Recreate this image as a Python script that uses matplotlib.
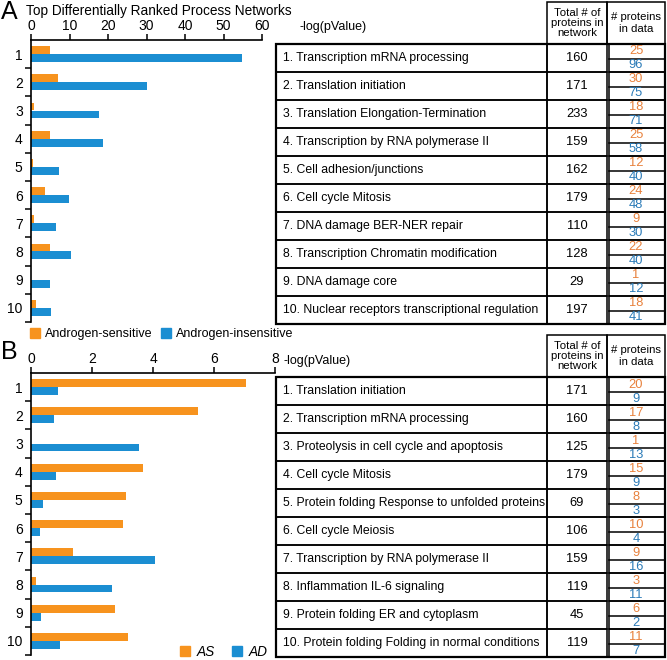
"""Top differentially ranked process networks: bars plus side tables"""
import matplotlib
matplotlib.use("Agg")
from matplotlib import pyplot as plt
from matplotlib.patches import Rectangle, Patch

plt.rcParams['font.family'] = ['Liberation Sans', 'DejaVu Sans']

W, H = 667, 660

ORANGE = '#F7931E'
BLUE = '#1B8ED2'
TXT_ORANGE = '#E8813C'
TXT_BLUE = '#2B7BB8'

ranks = list(range(1, 11))

# panel A
networks_a = [
    "1. Transcription mRNA processing",
    "2. Translation initiation",
    "3. Translation Elongation-Termination",
    "4. Transcription by RNA polymerase II",
    "5. Cell adhesion/junctions",
    "6. Cell cycle Mitosis",
    "7. DNA damage BER-NER repair",
    "8. Transcription Chromatin modification",
    "9. DNA damage core",
    "10. Nuclear receptors transcriptional regulation",
]
total_a = [160, 171, 233, 159, 162, 179, 110, 128, 29, 197]
count_sens_a = [25, 30, 18, 25, 12, 24, 9, 22, 1, 18]
count_insens_a = [96, 75, 71, 58, 40, 48, 30, 40, 12, 41]
logp_sens_a = [4.9, 6.9, 0.9, 4.9, 0.5, 3.6, 0.7, 5.0, 0.0, 1.2]
logp_insens_a = [54.8, 30.1, 17.6, 18.6, 7.2, 9.8, 6.5, 10.4, 4.9, 5.3]

# panel B
networks_b = [
    "1. Translation initiation",
    "2. Transcription mRNA processing",
    "3. Proteolysis in cell cycle and apoptosis",
    "4. Cell cycle Mitosis",
    "5. Protein folding Response to unfolded proteins",
    "6. Cell cycle Meiosis",
    "7. Transcription by RNA polymerase II",
    "8. Inflammation IL-6 signaling",
    "9. Protein folding ER and cytoplasm",
    "10. Protein folding Folding in normal conditions",
]
total_b = [171, 160, 125, 179, 69, 106, 159, 119, 45, 119]
count_as_b = [20, 17, 1, 15, 8, 10, 9, 3, 6, 11]
count_ad_b = [9, 8, 13, 9, 3, 4, 16, 11, 2, 7]
logp_as_b = [7.05, 5.47, 0.0, 3.68, 3.10, 3.02, 1.37, 0.16, 2.75, 3.19]
logp_ad_b = [0.90, 0.75, 3.54, 0.82, 0.38, 0.31, 4.07, 2.65, 0.34, 0.96]


def px_axes(fig, x0, y0, x1, y1):
    """Add axes from pixel box (top-left origin)"""
    return fig.add_axes([x0 / W, 1 - y1 / H, (x1 - x0) / W, (y1 - y0) / H])


def bar_panel(ax, first, second, xmax, step):
    """Horizontal grouped bars with axis on top"""
    bh = 0.28
    ax.barh([r - 0.14 for r in ranks], first, height=bh, color=ORANGE)
    ax.barh([r + 0.14 for r in ranks], second, height=bh, color=BLUE)
    ax.set_xlim(0, xmax)
    ax.set_ylim(10.5, 0.5)
    ax.xaxis.tick_top()
    ax.set_xticks(range(0, xmax + 1, step))
    ax.set_yticks(ranks)
    ax.set_yticks([r + 0.5 for r in ranks], minor=True)
    ax.tick_params(axis='y', which='major', length=0, pad=6, labelsize=10)
    ax.tick_params(axis='y', which='minor', length=4, width=1.1)
    ax.tick_params(axis='x', direction='out', length=4, width=1.1,
                   pad=1, labelsize=10)
    for side in ['right', 'bottom']:
        ax.spines[side].set_visible(False)
    for side in ['left', 'top']:
        ax.spines[side].set_linewidth(1.2)


def draw_table(ov, top, names, totals, top_counts, bottom_counts):
    """Draw the table to the right of a bar panel"""
    x0, x1, x2, x3 = 276, 547, 607, 665
    head_top = top - 42
    row_h = 28
    lw = 1.1
    # header cells
    ov.add_patch(Rectangle((x1, head_top), x2 - x1, 42, fill=False, lw=lw))
    ov.add_patch(Rectangle((x2, head_top), x3 - x2, 42, fill=False, lw=lw))
    ov.text((x1 + x2) / 2, head_top + 21, "Total # of\nproteins in\nnetwork",
            ha='center', va='center', fontsize=8.2, linespacing=1.0)
    ov.text((x2 + x3) / 2, head_top + 21, "# proteins\nin data",
            ha='center', va='center', fontsize=8.2, linespacing=1.15)
    for i, name in enumerate(names):
        y = top + i * row_h
        ov.add_patch(Rectangle((x0, y), x1 - x0, row_h, fill=False, lw=lw))
        ov.add_patch(Rectangle((x1, y), x2 - x1, row_h, fill=False, lw=lw))
        ov.add_patch(Rectangle((x2 + 2, y), x3 - x2 - 2, row_h,
                               fill=False, lw=lw))
        ov.plot([x2 + 2, x3], [y + 15, y + 15], color='black', lw=lw)
        ov.text(x0 + 7, y + row_h / 2, name, ha='left', va='center',
                fontsize=8.8)
        ov.text((x1 + x2) / 2, y + row_h / 2, str(totals[i]), ha='center',
                va='center', fontsize=9.3)
        ov.text((x2 + x3) / 2, y + 7.5, str(top_counts[i]), ha='center',
                va='center', fontsize=9.3, color=TXT_ORANGE)
        ov.text((x2 + x3) / 2, y + 21.5, str(bottom_counts[i]), ha='center',
                va='center', fontsize=9.3, color=TXT_BLUE)
    # heavier outer frame
    ov.add_patch(Rectangle((x0, top), x3 - x0, row_h * len(names),
                           fill=False, lw=1.6))


def main():
    """Build the figure"""
    fig = plt.figure(figsize=(W / 100, H / 100), dpi=100)

    ax_a = px_axes(fig, 31, 40, 262, 322)
    bar_panel(ax_a, logp_sens_a, logp_insens_a, 60, 10)
    ax_b = px_axes(fig, 31, 373, 275, 655)
    bar_panel(ax_b, logp_as_b, logp_ad_b, 8, 2)

    ov = fig.add_axes([0, 0, 1, 1])
    ov.set_xlim(0, W)
    ov.set_ylim(H, 0)
    ov.axis('off')

    ov.text(1, 12, "A", fontsize=18, va='center', ha='left')
    ov.text(26, 11, "Top Differentially Ranked Process Networks",
            fontsize=9.8, va='center', ha='left')
    ov.text(300, 27, "-log(pValue)", fontsize=9, va='center', ha='left')
    ov.text(1, 352, "B", fontsize=18, va='center', ha='left')
    ov.text(284, 361, "-log(pValue)", fontsize=9, va='center', ha='left')

    draw_table(ov, 44, networks_a, total_a, count_sens_a, count_insens_a)
    draw_table(ov, 377, networks_b, total_b, count_as_b, count_ad_b)

    fig.legend(handles=[Patch(color=ORANGE, label='Androgen-sensitive'),
                        Patch(color=BLUE, label='Androgen-insensitive')],
               loc='center left', bbox_to_anchor=(30 / W, 1 - 334 / H),
               ncol=2, frameon=False, fontsize=9, handlelength=0.8,
               handleheight=0.8, handletextpad=0.4, columnspacing=0.7,
               borderaxespad=0, borderpad=0)
    fig.legend(handles=[Patch(color=ORANGE, label='AS'),
                        Patch(color=BLUE, label='AD')],
               loc='center left', bbox_to_anchor=(180 / W, 1 - 652 / H),
               ncol=2, frameon=False, handlelength=0.75,
               handleheight=0.75, handletextpad=0.5, columnspacing=1.2,
               borderaxespad=0, borderpad=0,
               prop={'style': 'italic', 'size': 9.8})

    fig.savefig("out.png", dpi=100)


if __name__ == '__main__':
    main()
